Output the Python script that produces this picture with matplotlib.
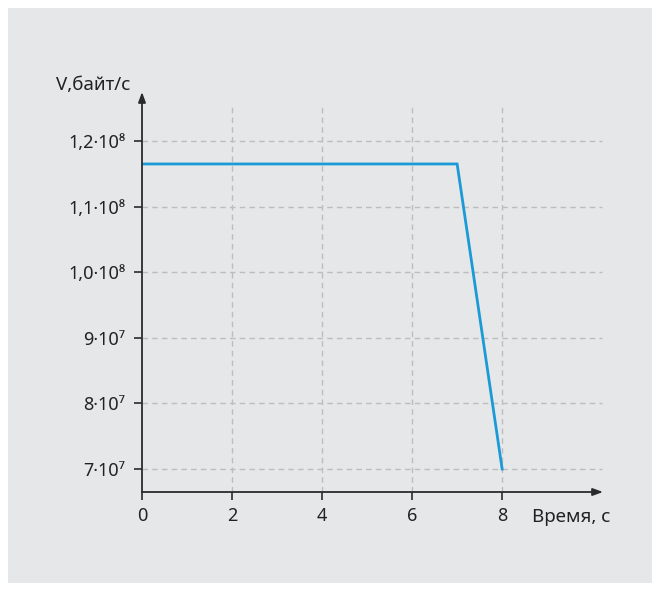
import matplotlib
matplotlib.use("Agg")
import matplotlib.pyplot as plt
from matplotlib.patches import Rectangle

plt.rcParams['font.family'] = ['Noto Sans', 'DejaVu Sans']

# Data
time_s = [0, 7, 8]
speed = [1.165e8, 1.165e8, 7.0e7]
x_ticks = [0, 2, 4, 6, 8]
x_tick_labels = ['0', '2', '4', '6', '8']
y_ticks = [7e7, 8e7, 9e7, 1.0e8, 1.1e8, 1.2e8]
y_tick_labels = ['7·10⁷', '8·10⁷', '9·10⁷', '1,0·10⁸', '1,1·10⁸', '1,2·10⁸']
x_label = 'Время, с'
y_label = 'V,байт/с'

W, H = 660, 591
fig = plt.figure(figsize=(W / 100, H / 100), dpi=100)
fig.patch.set_facecolor('white')
bg = Rectangle((8 / W, 8 / H), 644 / W, 575 / H, transform=fig.transFigure,
               facecolor='#e6e7e9', edgecolor='none', zorder=-10)
fig.add_artist(bg)

ax_left, ax_right, ax_top, ax_bottom = 142, 603, 92, 492
ax = fig.add_axes([ax_left / W, 1 - ax_bottom / H, (ax_right - ax_left) / W, (ax_bottom - ax_top) / H])
ax.set_zorder(5)
ax.patch.set_alpha(0)

xmin, xmax = 0, 10.24
ymin, ymax = 6.65e7, 1.2747e8
ax.set_xlim(xmin, xmax)
ax.set_ylim(ymin, ymax)

for s in ax.spines.values():
    s.set_visible(False)

grid_color = '#bdbdbd'
ax.hlines(y_ticks, 0, 10.22, colors=grid_color, linestyles=(0, (4, 3)), linewidth=1, zorder=1)
ax.vlines(x_ticks[1:], ymin, 1.255e8, colors=grid_color, linestyles=(0, (4, 3)), linewidth=1, zorder=1)

ax.plot(time_s, speed, color='#1a9ad6', linewidth=2, zorder=3, solid_joinstyle='miter')

axis_color = '#2b2b2b'
ax.annotate('', xy=(1.0, 0), xytext=(0, 0), xycoords='axes fraction',
            arrowprops=dict(arrowstyle='-|>,head_length=0.6,head_width=0.22', color=axis_color, lw=1.3,
                            shrinkA=0, shrinkB=0), zorder=4)
ax.annotate('', xy=(0, 1.0), xytext=(0, 0), xycoords='axes fraction',
            arrowprops=dict(arrowstyle='-|>,head_length=0.6,head_width=0.22', color=axis_color, lw=1.3,
                            shrinkA=0, shrinkB=0), zorder=4)

ax.set_xticks(x_ticks)
ax.set_xticklabels(x_tick_labels)
ax.set_yticks(y_ticks)
ax.set_yticklabels(y_tick_labels)
ax.tick_params(axis='both', colors=axis_color, labelcolor='#222222', labelsize=13, width=1.2, length=6)
ax.tick_params(axis='x', pad=5)
ax.tick_params(axis='y', pad=6)

fig.text(93 / W, 1 - 85 / H, y_label, ha='center', va='center', fontsize=13.5, color='#222222')
fig.text(571 / W, 1 - 517 / H, x_label, ha='center', va='center', fontsize=13.5, color='#222222')

fig.savefig('out.png', dpi=100, facecolor=fig.get_facecolor())
